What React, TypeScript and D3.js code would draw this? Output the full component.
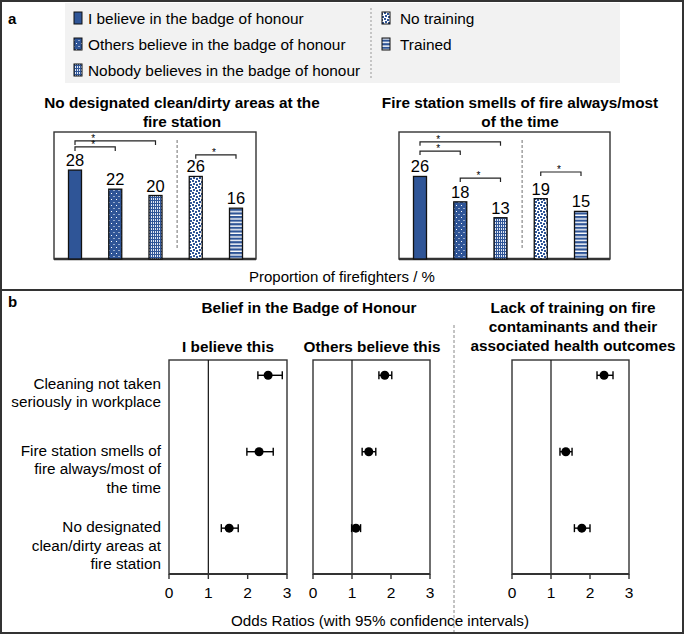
import React from 'react';
import { scaleLinear, scalePoint } from 'd3';

// panel a
const legendBelief = [
  'I believe in the badge of honour',
  'Others believe in the badge of honour',
  'Nobody believes in the badge of honour',
];
const legendTraining = ['No training', 'Trained'];
const barGroups = ['believe', 'others', 'nobody', 'noTraining', 'trained'];

const cleanDirtyTitle = ['No designated clean/dirty areas at the', 'fire station'];
const cleanDirtyValues = [28, 22, 20, 26, 16];
const cleanDirtyBrackets = [
  { from: 0, to: 2, level: 37.2, star: [0, 1] },
  { from: 0, to: 1, level: 35.3, star: [0, 1] },
  { from: 3, to: 4, level: 32.8, star: [3, 4] },
];

const smellsTitle = ['Fire station smells of fire always/most', 'of the time'];
const smellsValues = [26, 18, 13, 19, 15];
const smellsBrackets = [
  { from: 0, to: 2, level: 36.9, star: [0, 1] },
  { from: 0, to: 1, level: 34.0, star: [0, 1] },
  { from: 1, to: 2, level: 25.5, star: [1, 2] },
  { from: 3, to: 4, level: 27.4, star: [3, 4] },
];

// panel b
const outcomeLabels = [
  ['Cleaning not taken', 'seriously in workplace'],
  ['Fire station smells of', 'fire always/most of', 'the time'],
  ['No designated', 'clean/dirty areas at', 'fire station'],
];
const iBelieveOR = [2.52, 2.29, 1.53];
const iBelieveLow = [2.26, 1.98, 1.33];
const iBelieveHigh = [2.88, 2.65, 1.76];
const othersOR = [1.84, 1.43, 1.1];
const othersLow = [1.69, 1.26, 0.99];
const othersHigh = [2.02, 1.61, 1.22];
const trainingOR = [2.36, 1.38, 1.79];
const trainingLow = [2.18, 1.23, 1.6];
const trainingHigh = [2.59, 1.54, 2.0];
const oddsTicks = [0, 1, 2, 3];

const BLUE = '#2F5597';
const FONT = "Arial, 'Liberation Sans', sans-serif";
const patternIds = ['fillBelieve', 'fillOthers', 'fillNobody', 'fillNoTraining', 'fillTrained'];

const Patterns = () => (
  <defs>
    <pattern id="fillBelieve" width={4} height={4} patternUnits="userSpaceOnUse">
      <rect width={4} height={4} fill={BLUE} />
    </pattern>
    <pattern id="fillOthers" width={5} height={6} patternUnits="userSpaceOnUse">
      <rect width={5} height={6} fill={BLUE} />
      <rect x={1} y={1} width={1} height={1} fill="#fff" />
      <rect x={3.5} y={4} width={1} height={1} fill="#fff" />
    </pattern>
    <pattern id="fillNobody" width={2} height={3} patternUnits="userSpaceOnUse">
      <rect width={2} height={3} fill={BLUE} />
      <rect x={1} y={0} width={1} height={2} fill="#dfe6f3" />
    </pattern>
    <pattern id="fillNoTraining" width={6} height={6} patternUnits="userSpaceOnUse">
      <rect width={6} height={6} fill="#fff" />
      <rect x={0} y={0} width={2} height={2} fill={BLUE} />
      <rect x={3} y={1} width={2} height={2} fill={BLUE} />
      <rect x={1} y={3} width={2} height={2} fill={BLUE} />
      <rect x={4} y={4} width={2} height={2} fill={BLUE} />
    </pattern>
    <pattern id="fillTrained" width={4} height={3.6} patternUnits="userSpaceOnUse">
      <rect width={4} height={3.6} fill="#fff" />
      <rect y={0} width={4} height={2.2} fill={BLUE} />
    </pattern>
  </defs>
);

interface Bracket {
  from: number;
  to: number;
  level: number;
  star: number[];
}

interface BarPanelProps {
  left: number;
  right: number;
  title: string[];
  titleX: number;
  values: number[];
  brackets: Bracket[];
}

const BarPanel = ({ left, right, title, titleX, values, brackets }: BarPanelProps) => {
  const top = 132;
  const bottom = 259;
  const y = scaleLinear().domain([0, 40]).range([bottom, top]);
  const x = scalePoint<string>().domain(barGroups).range([left + 21, left + 182]);
  const bw = 13;
  const sepX = ((x(barGroups[2]) as number) + (x(barGroups[3]) as number)) / 2 + 1.5;
  return (
    <g>
      {title.map((t, i) => (
        <text key={t} x={titleX} y={102 + i * 19} textAnchor="middle" dominantBaseline="central"
          fontWeight="bold" fontSize={15.3}>{t}</text>
      ))}
      <rect x={left} y={top} width={right - left} height={bottom - top} fill="#fff" stroke="#333" strokeWidth={1.4} />
      <line x1={left} x2={right} y1={bottom} y2={bottom} stroke="#333" strokeWidth={2.4} />
      <line x1={sepX} x2={sepX} y1={140} y2={250} stroke="#888" strokeWidth={1.2} strokeDasharray="3,2" />
      {values.map((v, i) => {
        const cx = x(barGroups[i]) as number;
        return (
          <g key={barGroups[i]}>
            <rect x={cx - bw / 2} y={y(v)} width={bw} height={bottom - y(v)}
              fill={`url(#${patternIds[i]})`} stroke="#111" strokeWidth={1.3} />
            <text x={cx} y={y(v) - 4} textAnchor="middle" fontSize={16.5}>{v}</text>
          </g>
        );
      })}
      {brackets.map((b, i) => {
        const x1 = x(barGroups[b.from]) as number;
        const x2 = x(barGroups[b.to]) as number;
        const by = y(b.level);
        const sx = ((x(barGroups[b.star[0]]) as number) + (x(barGroups[b.star[1]]) as number)) / 2 - 2;
        return (
          <g key={i}>
            <path d={`M${x1},${by + 4}V${by}H${x2}V${by + 4}`} fill="none" stroke="#222" strokeWidth={1.2} />
            <text x={sx} y={by + 1} textAnchor="middle" fontSize={10}>*</text>
          </g>
        );
      })}
    </g>
  );
};

interface ForestProps {
  left: number;
  right: number;
  or: number[];
  low: number[];
  high: number[];
}

const yRows = scaleLinear().domain([0.4, 3.2]).range([574, 360]);

const ForestPanel = ({ left, right, or, low, high }: ForestProps) => {
  const x = scaleLinear().domain([0, 3]).range([left, right]);
  const top = yRows(3.2);
  const bottom = yRows(0.4);
  return (
    <g>
      <rect x={left} y={top} width={right - left} height={bottom - top} fill="#fff" stroke="#333" strokeWidth={1.4} />
      <line x1={x(1)} x2={x(1)} y1={top} y2={bottom} stroke="#111" strokeWidth={1.2} />
      <line x1={left} x2={right} y1={bottom} y2={bottom} stroke="#333" strokeWidth={2.2} />
      {oddsTicks.map((t) => (
        <g key={t}>
          <line x1={x(t)} x2={x(t)} y1={bottom} y2={bottom + 5} stroke="#333" strokeWidth={1.4} />
          <text x={x(t)} y={bottom + 18} textAnchor="middle" dominantBaseline="central" fontSize={15.5}>{t}</text>
        </g>
      ))}
      {or.map((v, i) => {
        const cy = yRows(3 - i);
        return (
          <g key={i}>
            <line x1={x(low[i])} x2={x(high[i])} y1={cy} y2={cy} stroke="#000" strokeWidth={1.4} />
            <line x1={x(low[i])} x2={x(low[i])} y1={cy - 4} y2={cy + 4} stroke="#000" strokeWidth={1.4} />
            <line x1={x(high[i])} x2={x(high[i])} y1={cy - 4} y2={cy + 4} stroke="#000" strokeWidth={1.4} />
            <circle cx={x(v)} cy={cy} r={4.5} fill="#000" />
          </g>
        );
      })}
    </g>
  );
};

const App = () => {
  return (
    <svg width={685} height={634} style={{ position: 'absolute', left: 0, top: 0, background: '#fff' }}
      fontFamily={FONT} fill="#000">
      <Patterns />
      {/* frame */}
      <rect x={1} y={1} width={682} height={632} fill="#fff" stroke="#333" strokeWidth={2} />
      <line x1={1} x2={683} y1={290} y2={290} stroke="#333" strokeWidth={2} />

      {/* panel a */}
      <text x={8} y={18} dominantBaseline="central" fontWeight="bold" fontSize={15}>a</text>
      <rect x={65} y={3} width={555} height={80} fill="#f2f2f2" />
      <line x1={371} x2={371} y1={8} y2={80} stroke="#999" strokeWidth={1} strokeDasharray="2,2" />
      {legendBelief.map((t, i) => (
        <g key={t}>
          <rect x={74} y={18 + i * 26 - 6} width={8} height={12} fill={`url(#${patternIds[i]})`} stroke="#111" strokeWidth={1} />
          <text x={88} y={18 + i * 26} dominantBaseline="central" fontSize={15.4}>{t}</text>
        </g>
      ))}
      {legendTraining.map((t, i) => (
        <g key={t}>
          <rect x={382} y={18 + i * 26 - 6} width={8} height={12} fill={`url(#${patternIds[i + 3]})`} stroke="#111" strokeWidth={1} />
          <text x={400} y={18 + i * 26} dominantBaseline="central" fontSize={15.4}>{t}</text>
        </g>
      ))}
      <BarPanel left={54} right={256} title={cleanDirtyTitle} titleX={182} values={cleanDirtyValues} brackets={cleanDirtyBrackets} />
      <BarPanel left={399} right={610} title={smellsTitle} titleX={520} values={smellsValues} brackets={smellsBrackets} />
      <text x={342} y={276} textAnchor="middle" dominantBaseline="central" fontSize={15}>Proportion of firefighters / %</text>

      {/* panel b */}
      <text x={8} y={301} dominantBaseline="central" fontWeight="bold" fontSize={15}>b</text>
      <text x={309} y={307} textAnchor="middle" dominantBaseline="central" fontWeight="bold" fontSize={15.3}>Belief in the Badge of Honour</text>
      {['Lack of training on fire', 'contaminants and their', 'associated health outcomes'].map((t, i) => (
        <text key={t} x={573} y={307 + i * 19} textAnchor="middle" dominantBaseline="central" fontWeight="bold" fontSize={15.3}>{t}</text>
      ))}
      <text x={228} y={346} textAnchor="middle" dominantBaseline="central" fontWeight="bold" fontSize={15.3}>I believe this</text>
      <text x={372} y={346} textAnchor="middle" dominantBaseline="central" fontWeight="bold" fontSize={15.3}>Others believe this</text>
      <line x1={454} x2={454} y1={325} y2={632} stroke="#888" strokeWidth={1} strokeDasharray="3,2" />
      {outcomeLabels.map((lines, i) => {
        const cy = yRows(3 - i) + 17;
        return lines.map((l, j) => (
          <text key={l} x={161} y={cy + (j - (lines.length - 1) / 2) * 18.5} textAnchor="end"
            dominantBaseline="central" fontSize={15.3}>{l}</text>
        ));
      })}
      <ForestPanel left={169} right={287} or={iBelieveOR} low={iBelieveLow} high={iBelieveHigh} />
      <ForestPanel left={313} right={430} or={othersOR} low={othersLow} high={othersHigh} />
      <ForestPanel left={512} right={629} or={trainingOR} low={trainingLow} high={trainingHigh} />
      <text x={380} y={620} textAnchor="middle" dominantBaseline="central" fontSize={15.2}>Odds Ratios (with 95% confidence intervals)</text>
    </svg>
  );
};

export default App;
